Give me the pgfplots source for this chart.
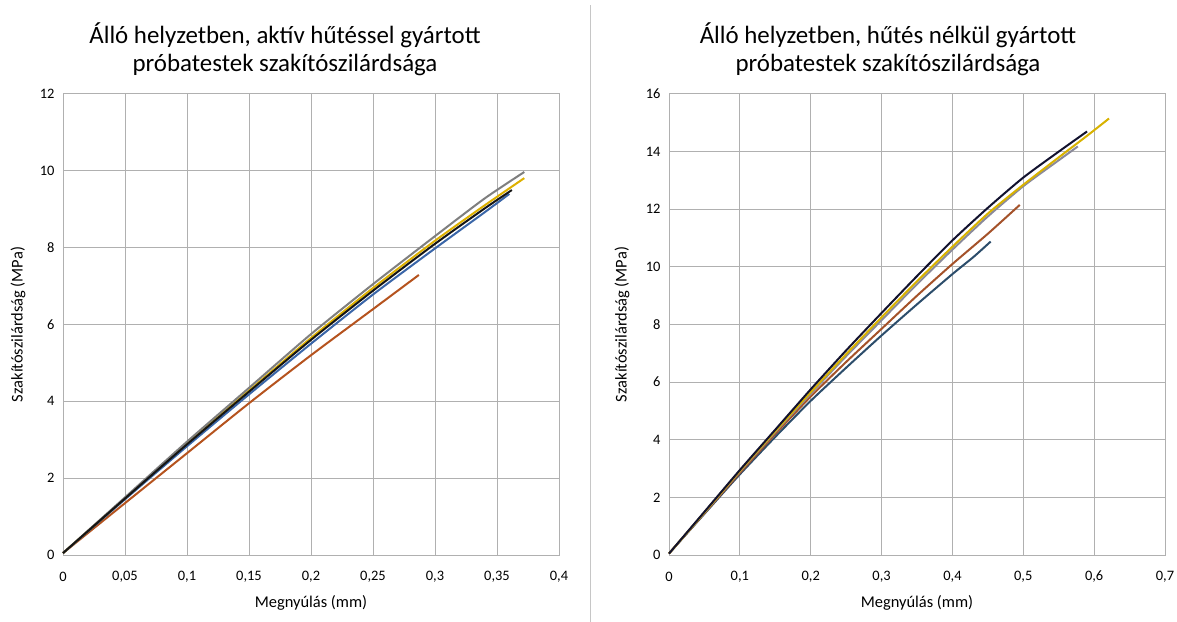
\documentclass[border=0pt]{standalone}
\usepackage{pgfplots}
\pgfplotsset{compat=1.18}
\usepackage{fontspec}
\setmainfont{Carlito}
\definecolor{cgray}{HTML}{7F7F7F}
\definecolor{cyellow}{HTML}{DDB000}
\definecolor{cblue}{HTML}{3A66A8}
\definecolor{cblack}{HTML}{151515}
\definecolor{corange}{HTML}{B5531E}
\definecolor{rblack}{HTML}{12122E}
\definecolor{ryellow}{HTML}{D8B200}
\definecolor{rgray}{HTML}{8A8A9A}
\definecolor{rorange}{HTML}{A4522A}
\definecolor{rblue}{HTML}{2C4D6B}
\definecolor{gridc}{HTML}{B0B0B0}
\pgfplotsset{
  mystyle/.style={
    scale only axis, width=496bp, height=461bp, anchor=south west,
    axis line style={draw=gridc, line width=1bp},
    grid=major, grid style={gridc, line width=1bp},
    major tick length=0pt,
    tick label style={font=\fontsize{14.5}{16}\selectfont},
    label style={font=\fontsize{16.5}{19}\selectfont},
    /pgf/number format/assume math mode=true,
    xticklabel style={anchor=center, yshift=-22bp},
    yticklabel style={anchor=east, xshift=-5bp},
    xlabel style={at={(axis description cs:0.5,-0.104)}, anchor=center},
    every axis plot/.append style={line width=2bp, no markers, smooth, tension=0.4},
    clip=false,
  }
}
\begin{document}
\begin{tikzpicture}
\useasboundingbox (0bp,0bp) rectangle (1177bp,622bp);
\draw[color=gray!45, line width=1bp] (590bp,0bp) -- (590bp,617bp);
\node[align=center, font=\fontsize{25}{28}\selectfont] at (285bp,573bp) {Álló helyzetben, aktív hűtéssel gyártott\\próbatestek szakítószilárdsága};
\node[align=center, font=\fontsize{25}{28}\selectfont] at (888bp,573bp) {Álló helyzetben, hűtés nélkül gyártott\\próbatestek szakítószilárdsága};

\begin{axis}[mystyle, at={(63bp,67bp)},
  xmin=0, xmax=0.4, ymin=0, ymax=12,
  xtick={0,0.05,0.1,0.15,0.2,0.25,0.3,0.35,0.4},
  xticklabels={0,{0,05},{0,1},{0,15},{0,2},{0,25},{0,3},{0,35},{0,4}},
  ytick={0,2,4,6,8,10,12},
  xlabel={Megnyúlás (mm)},
  ylabel={Szakítószilárdság (MPa)},
  ylabel style={at={(axis description cs:-0.0907,0.5)}, anchor=center},
]
\addplot[corange] coordinates {(0,0.05)(0.05,1.35)(0.1,2.65)(0.15,3.95)(0.2,5.2)(0.25,6.4)(0.287,7.29)};
\addplot[cblue] coordinates {(0,0.05)(0.05,1.45)(0.1,2.83)(0.15,4.18)(0.2,5.5)(0.25,6.78)(0.3,7.98)(0.34,8.92)(0.360,9.4)};
\addplot[cyellow] coordinates {(0,0.05)(0.05,1.48)(0.1,2.9)(0.15,4.28)(0.2,5.65)(0.25,6.95)(0.3,8.18)(0.34,9.1)(0.372,9.81)};
\addplot[cgray] coordinates {(0,0.05)(0.05,1.5)(0.1,2.95)(0.15,4.35)(0.2,5.75)(0.25,7.05)(0.3,8.3)(0.34,9.28)(0.372,9.97)};
\addplot[cblack] coordinates {(0,0.05)(0.05,1.47)(0.1,2.88)(0.15,4.25)(0.2,5.6)(0.25,6.88)(0.3,8.1)(0.34,9.02)(0.362,9.5)};
\end{axis}

\begin{axis}[mystyle, at={(669bp,67bp)},
  xmin=0, xmax=0.7, ymin=0, ymax=16,
  xtick={0,0.1,0.2,0.3,0.4,0.5,0.6,0.7},
  xticklabels={0,{0,1},{0,2},{0,3},{0,4},{0,5},{0,6},{0,7}},
  ytick={0,2,4,6,8,10,12,14,16},
  xlabel={Megnyúlás (mm)},
  ylabel={Szakítószilárdság (MPa)},
  ylabel style={at={(axis description cs:-0.0948,0.5)}, anchor=center},
]
\addplot[rblue] coordinates {(0,0.05)(0.05,1.43)(0.1,2.8)(0.15,4.1)(0.2,5.35)(0.25,6.5)(0.3,7.62)(0.35,8.7)(0.4,9.75)(0.43,10.35)(0.454,10.88)};
\addplot[rorange] coordinates {(0,0.05)(0.05,1.45)(0.1,2.85)(0.15,4.2)(0.2,5.5)(0.25,6.7)(0.3,7.85)(0.35,9.0)(0.4,10.1)(0.45,11.15)(0.495,12.15)};
\addplot[rgray] coordinates {(0,0.05)(0.05,1.47)(0.1,2.9)(0.15,4.27)(0.2,5.6)(0.25,6.9)(0.3,8.15)(0.35,9.4)(0.4,10.6)(0.45,11.75)(0.5,12.8)(0.55,13.7)(0.577,14.18)};
\addplot[ryellow] coordinates {(0,0.05)(0.05,1.48)(0.1,2.92)(0.15,4.3)(0.2,5.65)(0.25,6.97)(0.3,8.25)(0.35,9.5)(0.4,10.7)(0.45,11.85)(0.5,12.85)(0.55,13.8)(0.59,14.55)(0.621,15.15)};
\addplot[rblack] coordinates {(0,0.05)(0.05,1.5)(0.1,2.95)(0.15,4.35)(0.2,5.75)(0.25,7.1)(0.3,8.4)(0.35,9.68)(0.4,10.92)(0.45,12.05)(0.5,13.1)(0.55,14.0)(0.59,14.7)};
\end{axis}
\end{tikzpicture}
\end{document}
